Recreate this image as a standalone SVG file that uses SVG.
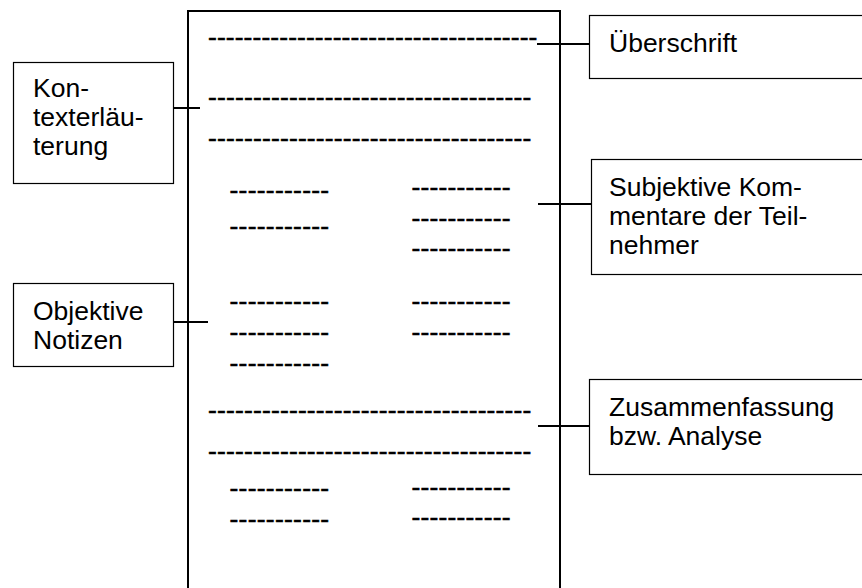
<svg xmlns="http://www.w3.org/2000/svg" width="862" height="588" viewBox="0 0 862 588">
<style>
.box{fill:#fff;stroke:#000;stroke-width:1.2}
.page{fill:#fff;stroke:#000;stroke-width:2}
.lbl{font-family:"Liberation Sans",Arial,sans-serif;font-size:26.5px;fill:#000}
.d{font-family:"Liberation Sans",Arial,sans-serif;font-size:26.5px;fill:#000;stroke:#000;stroke-width:0.6}
.con line{stroke:#000;stroke-width:2}
</style>
<rect x="0" y="0" width="862" height="588" fill="#fff"/>
<g id="page">
<rect class="page" x="188" y="11" width="372" height="600"/>
<text class="d" x="208" y="45.6" textLength="329.4" lengthAdjust="spacing">-------------------------------------</text>
<text class="d" x="208" y="106.3" textLength="323.4" lengthAdjust="spacing">------------------------------------</text>
<text class="d" x="208" y="147.3" textLength="323.4" lengthAdjust="spacing">------------------------------------</text>
<text class="d" x="229.5" y="199" textLength="99.7" lengthAdjust="spacing">-----------</text>
<text class="d" x="229.5" y="235" textLength="99.7" lengthAdjust="spacing">-----------</text>
<text class="d" x="229.5" y="309.6" textLength="99.7" lengthAdjust="spacing">-----------</text>
<text class="d" x="229.5" y="340.6" textLength="99.7" lengthAdjust="spacing">-----------</text>
<text class="d" x="229.5" y="371.6" textLength="99.7" lengthAdjust="spacing">-----------</text>
<text class="d" x="411.5" y="195.6" textLength="99" lengthAdjust="spacing">-----------</text>
<text class="d" x="411.5" y="226.6" textLength="99" lengthAdjust="spacing">-----------</text>
<text class="d" x="411.5" y="257.3" textLength="99" lengthAdjust="spacing">-----------</text>
<text class="d" x="411.5" y="309.6" textLength="99" lengthAdjust="spacing">-----------</text>
<text class="d" x="411.5" y="340.6" textLength="99" lengthAdjust="spacing">-----------</text>
<text class="d" x="208" y="419" textLength="323.4" lengthAdjust="spacing">------------------------------------</text>
<text class="d" x="208" y="459.6" textLength="323.4" lengthAdjust="spacing">------------------------------------</text>
<text class="d" x="229.5" y="496.6" textLength="99.7" lengthAdjust="spacing">-----------</text>
<text class="d" x="229.5" y="528.3" textLength="99.7" lengthAdjust="spacing">-----------</text>
<text class="d" x="411.5" y="495.6" textLength="99" lengthAdjust="spacing">-----------</text>
<text class="d" x="411.5" y="526.3" textLength="99" lengthAdjust="spacing">-----------</text>
</g>
<g id="connectors" class="con">
<line x1="537" y1="44" x2="589" y2="44"/>
<line x1="159" y1="108" x2="200" y2="108"/>
<line x1="538" y1="204" x2="591" y2="204"/>
<line x1="159" y1="322" x2="208" y2="322"/>
<line x1="538" y1="426" x2="590" y2="426"/>
</g>
<g id="ueberschrift">
<rect class="box" x="589.5" y="15.5" width="300" height="63"/>
<text class="lbl" x="609" y="52">Überschrift</text>
</g>
<g id="kontext">
<rect class="box" x="13.5" y="62.5" width="160" height="121"/>
<text class="lbl" x="33" y="97"><tspan x="33">Kon-</tspan><tspan x="33" dy="29">texterläu-</tspan><tspan x="33" dy="29">terung</tspan></text>
</g>
<g id="subjektiv">
<rect class="box" x="591.5" y="159.5" width="300" height="115"/>
<text class="lbl" x="609" y="196"><tspan x="609">Subjektive Kom-</tspan><tspan x="609" dy="29">mentare der Teil-</tspan><tspan x="609" dy="29">nehmer</tspan></text>
</g>
<g id="objektiv">
<rect class="box" x="13.5" y="283.5" width="160" height="83"/>
<text class="lbl" x="33" y="320"><tspan x="33">Objektive</tspan><tspan x="33" dy="29">Notizen</tspan></text>
</g>
<g id="zusammenfassung">
<rect class="box" x="589.5" y="379.5" width="300" height="95"/>
<text class="lbl" x="609" y="416"><tspan x="609">Zusammenfassung</tspan><tspan x="609" dy="29">bzw. Analyse</tspan></text>
</g>
</svg>
